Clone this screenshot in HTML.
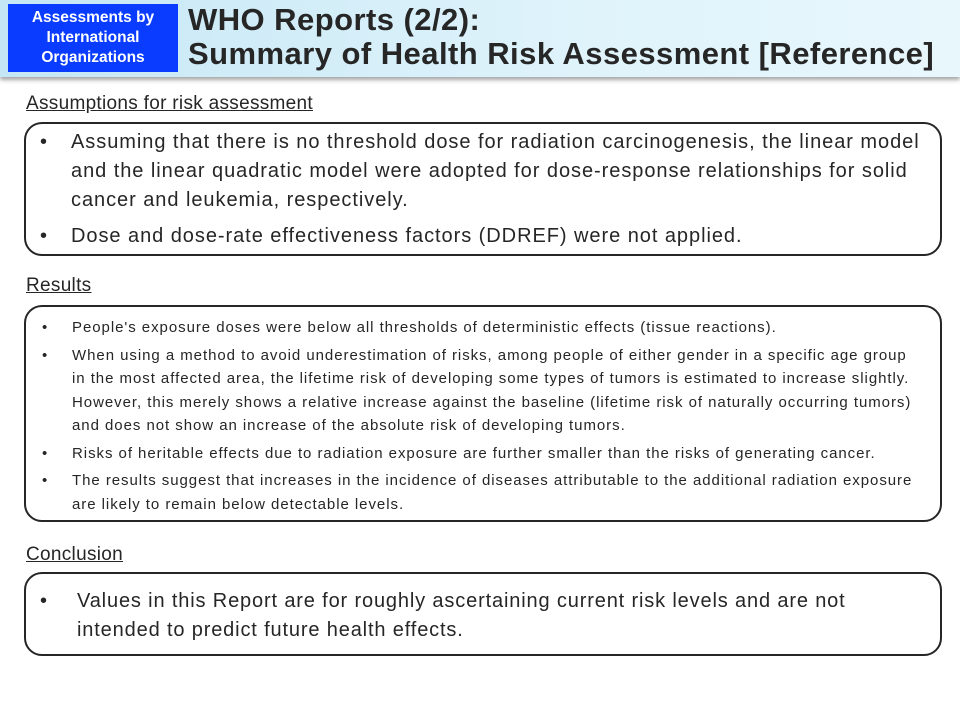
<!DOCTYPE html>
<html><head><meta charset="utf-8"><style>
body{margin:0;width:960px;height:720px;background:#fff;position:relative;overflow:hidden;font-family:"Liberation Sans",sans-serif;color:#262626}
.hdr{position:absolute;left:0;top:0;width:960px;height:77px;background:linear-gradient(90deg,#c5e7f5,#dff3fb 60%,#e8f7fc);box-shadow:0 3px 4px rgba(0,0,0,.35)}
.tag{position:absolute;left:8px;top:4px;width:170px;height:68px;background:#0a3cff;color:#fff;font-weight:bold;font-size:15.5px;line-height:20px;text-align:center;padding-top:4px;box-sizing:border-box}
.title{position:absolute;left:188px;top:3px;font-weight:bold;font-size:31px;line-height:34px;color:#262626;letter-spacing:0.45px;white-space:nowrap}
.h{position:absolute;left:26px;font-size:19px;text-decoration:underline;color:#262626;letter-spacing:0.3px}
.box{position:absolute;left:24px;width:918px;border:2.5px solid #262626;border-radius:18px;box-sizing:border-box}
ul{margin:0;padding:0;list-style:none}
li{position:relative;white-space:nowrap}
li:before{content:"•";position:absolute;letter-spacing:0}
.b1 li{font-size:20px;line-height:29px;padding-left:45px;letter-spacing:0.95px}
.b1 li:before{left:14px}
.b2 li{font-size:15px;line-height:23.5px;padding-left:46px;letter-spacing:0.95px}
.b2 li:before{left:16px}
</style></head><body>
<div class="hdr"></div>
<div class="tag">Assessments by<br>International<br>Organizations</div>
<div class="title">WHO Reports (2/2):<br>Summary of Health Risk Assessment [Reference]</div>
<div class="h" style="top:93px">Assumptions for risk assessment</div>
<div class="box b1" style="top:122px;height:134px;padding-top:4px"><ul>
<li>Assuming that there is no threshold dose for radiation carcinogenesis, the linear model<br>and the linear quadratic model were adopted for dose-response relationships for solid<br>cancer and leukemia, respectively.</li>
<li style="margin-top:7px">Dose and dose-rate effectiveness factors (DDREF) were not applied.</li></ul></div>
<div class="h" style="top:275px">Results</div>
<div class="box b2" style="top:305px;height:217px;padding-top:9px"><ul>
<li>People's exposure doses were below all thresholds of deterministic effects (tissue reactions).</li>
<li style="margin-top:4px">When using a method to avoid underestimation of risks, among people of either gender in a specific age group<br>in the most affected area, the lifetime risk of developing some types of tumors is estimated to increase slightly.<br>However, this merely shows a relative increase against the baseline (lifetime risk of naturally occurring tumors)<br>and does not show an increase of the absolute risk of developing tumors.</li>
<li style="margin-top:4px">Risks of heritable effects due to radiation exposure are further smaller than the risks of generating cancer.</li>
<li style="margin-top:4px">The results suggest that increases in the incidence of diseases attributable to the additional radiation exposure<br>are likely to remain below detectable levels.</li></ul></div>
<div class="h" style="top:544px">Conclusion</div>
<div class="box b1" style="top:572px;height:84px;padding-top:13px"><ul>
<li style="padding-left:51px;letter-spacing:0.85px">Values in this Report are for roughly ascertaining current risk levels and are not<br>intended to predict future health effects.</li></ul></div>
</body></html>
